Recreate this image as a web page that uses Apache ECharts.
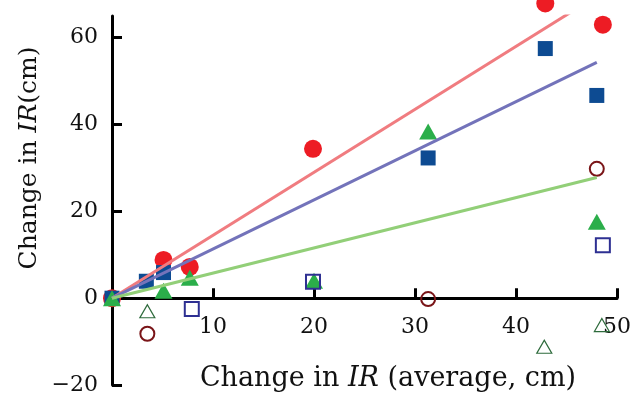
<!DOCTYPE html>
<html>
<head>
<meta charset="utf-8">
<script src="https://cdn.jsdelivr.net/npm/echarts@6/dist/echarts.min.js"></script>
<style>html,body{margin:0;padding:0;background:#fff}#c{width:632px;height:401px}</style>
</head>
<body>
<div id="c"></div>
<script>
// ---- data ----
const xTicks = [10, 20, 30, 40, 50];
const yTicks = [-20, 0, 20, 40, 60];
const redFilled   = [[0, 0], [5.1, 8.8], [7.7, 7.2], [19.9, 34.4], [42.9, 67.9], [48.6, 63.0]];
const blueFilled  = [[0, 0], [3.4, 3.9], [5.1, 5.9], [31.3, 32.3], [42.9, 57.5], [48.0, 46.7]];
const greenFilled = [[0, 0], [5.1, 1.7], [7.7, 4.7], [20.0, 4.0], [31.3, 38.4], [48.0, 17.6]];
const redOpen     = [[3.5, -8.2], [31.3, -0.2], [48.0, 29.8]];
const blueOpen    = [[7.9, -2.5], [19.9, 3.8], [48.6, 12.2]];
const greenOpen   = [[3.5, -3.0], [42.8, -11.2], [48.5, -6.2]];
const redFit   = [[0, 0], [48, 69.6]];
const blueFit  = [[0, 0], [48, 54.3]];
const greenFit = [[0, 0], [48, 27.8]];

const FONT = '"DejaVu Serif", "Liberation Serif", serif';
const chart = echarts.init(document.getElementById('c'), null, {renderer: 'canvas'});

// grid geometry: y from -20 (bottom) to 65 (top)
const GRID_TOP = 16, GRID_BOTTOM = 16, H = 401;
const yMin = -20, yMax = 65;
const plotH = H - GRID_TOP - GRID_BOTTOM;
const zeroOffset = -plotH * (0 - yMin) / (yMax - yMin); // move x axis up to y = 0

function scatter(data, symbol, size, fill, stroke, bw) {
  return {
    type: 'scatter', data: data, symbol: symbol, symbolSize: size, clip: false,
    itemStyle: {color: fill, borderColor: stroke, borderWidth: bw, opacity: 1},
    emphasis: {disabled: true}, silent: true
  };
}
function fit(data, color) {
  return {
    type: 'line', data: data, showSymbol: false, symbol: 'none', clip: true,
    lineStyle: {color: color, width: 3}, emphasis: {disabled: true}, silent: true
  };
}

chart.setOption({
  animation: false,
  backgroundColor: '#fff',
  grid: {left: 112, right: 15, top: GRID_TOP, bottom: GRID_BOTTOM, containLabel: false, outerBoundsMode: 'none'},
  xAxis: {
    type: 'value', min: 0, max: 50, position: 'bottom', offset: zeroOffset,
    splitLine: {show: false},
    axisLine: {onZero: false, lineStyle: {color: '#000', width: 3}},
    axisTick: {inside: true, length: 10, lineStyle: {color: '#000', width: 3}, customValues: xTicks},
    axisLabel: {margin: 18, color: '#111', fontFamily: FONT, fontSize: 22, customValues: xTicks}
  },
  yAxis: {
    type: 'value', min: yMin, max: yMax,
    splitLine: {show: false},
    axisLine: {onZero: false, lineStyle: {color: '#000', width: 3}},
    axisTick: {inside: true, length: 10, lineStyle: {color: '#000', width: 3}, customValues: yTicks},
    axisLabel: {margin: 14, color: '#111', fontFamily: FONT, fontSize: 22, customValues: yTicks,
      formatter: v => v < 0 ? '\u2212' + Math.abs(v) : String(v)}
  },
  graphic: [
    {type: 'text', x: 388, y: 379, z: 100,
      style: {text: '{n|Change in }{i|IR}{n| (average, cm)}', align: 'center', verticalAlign: 'middle',
        rich: {n: {fontFamily: FONT, fontSize: 27, fill: '#111'}, i: {fontFamily: FONT, fontSize: 27, fontStyle: 'italic', fill: '#111'}}}},
    {type: 'text', x: 29, y: 158, rotation: Math.PI / 2, z: 100,
      style: {text: '{n|Change in }{i|IR}{n|(cm)}', align: 'center', verticalAlign: 'middle',
        rich: {n: {fontFamily: FONT, fontSize: 25, fill: '#111'}, i: {fontFamily: FONT, fontSize: 25, fontStyle: 'italic', fill: '#111'}}}}
  ],
  series: [
    fit(redFit, '#F07C80'),
    fit(blueFit, '#7373BA'),
    fit(greenFit, '#92CF78'),
    scatter(redFilled, 'circle', 18, '#ED1C24', '#ED1C24', 0),
    scatter(blueFilled, 'rect', 15, '#0D4B92', '#0D4B92', 0),
    scatter(greenFilled, 'triangle', [18, 16], '#2BAE4A', '#2BAE4A', 0),
    scatter(redOpen, 'circle', 14, 'rgba(0,0,0,0)', '#7A1518', 2),
    scatter(blueOpen, 'rect', 14, 'rgba(0,0,0,0)', '#2E3092', 2),
    scatter(greenOpen, 'triangle', [15, 13], 'rgba(0,0,0,0)', '#2E6B3C', 1.2)
  ]
});
</script>
</body>
</html>
